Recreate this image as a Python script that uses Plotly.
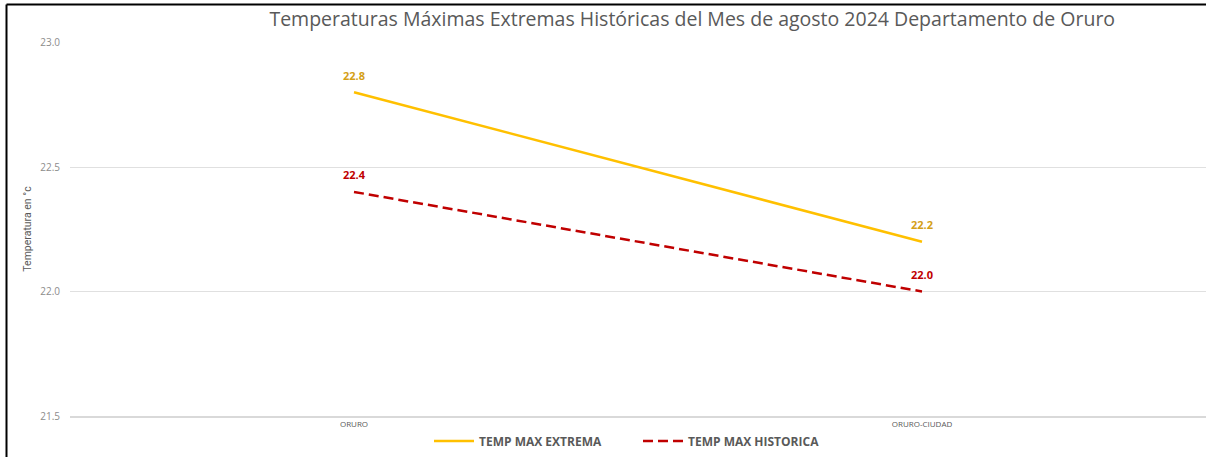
from plotly.graph_objects import Figure, Scatter

estaciones = ["ORURO", "ORURO-CIUDAD"]
temp_max_extrema = [22.8, 22.2]
temp_max_historica = [22.4, 22.0]
y_ticks = [21.5, 22.0, 22.5, 23.0]

FONT = "Open Sans"

fig = Figure()
fig.add_trace(Scatter(
    x=estaciones, y=temp_max_extrema, mode="lines+markers+text", name="TEMP MAX EXTREMA",
    line=dict(color="#FFC000", width=2.5),
    marker=dict(size=14, color="rgba(0,0,0,0)"),
    text=[f"{v:.1f}" for v in temp_max_extrema], textposition="top center",
    textfont=dict(family=FONT, size=11, color="#D4A017", weight="bold"),
))
fig.add_trace(Scatter(
    x=estaciones, y=temp_max_historica, mode="lines+markers+text", name="TEMP MAX HISTORICA",
    line=dict(color="#C00000", width=2.5, dash="10px,5px"),
    marker=dict(size=14, color="rgba(0,0,0,0)"),
    text=[f"{v:.1f}" for v in temp_max_historica], textposition="top center",
    textfont=dict(family=FONT, size=11, color="#C00000", weight="bold"),
))

fig.update_xaxes(
    type="category", range=[-0.5, 1.5], showgrid=False,
    showline=True, linecolor="#D9D9D9", linewidth=1.5,
    tickfont=dict(family=FONT, size=8, color="#595959"), ticks="", ticklen=0,
)
fig.update_yaxes(
    range=[21.5, 23.002], tickvals=y_ticks, ticktext=[f"{v:.1f}" for v in y_ticks],
    showgrid=True, gridcolor="#E0E0E0", gridwidth=1, zeroline=False,
    tickfont=dict(family=FONT, size=10, color="#8C8C8C"), ticks="", ticklen=0, ticklabelstandoff=9,
    title=dict(text="Temperatura en °c", font=dict(family="Roboto", size=10.5, color="#595959"),
               standoff=6),
)

# marco negro del recuadro (izquierda y arriba)
fig.add_shape(type="line", xref="paper", yref="paper", x0=-0.0559, x1=-0.0559, y0=-0.2, y1=1.1,
              line=dict(color="black", width=2))
fig.add_shape(type="line", xref="paper", yref="paper", x0=-0.0559, x1=1.01, y0=1.1, y1=1.1,
              line=dict(color="black", width=2))

fig.update_layout(
    width=1206, height=457,
    margin=dict(l=70, r=0, t=42, b=41),
    paper_bgcolor="white", plot_bgcolor="white",
    title=dict(text="Temperaturas Máximas Extremas Históricas del Mes de agosto 2024 Departamento de Oruro",
               x=0.574, xanchor="center", y=0.957, yanchor="middle",
               font=dict(family=FONT, size=19.5, color="#595959")),
    showlegend=True,
    legend=dict(orientation="h", x=0.5, xanchor="center", y=-0.067, yanchor="middle",
                itemwidth=40, entrywidth=154,
                font=dict(family=FONT, size=12, color="#595959", weight="bold")),
)

fig.write_html("out.html", config={"displayModeBar": False},
               post_script="document.body.style.margin='0';")
